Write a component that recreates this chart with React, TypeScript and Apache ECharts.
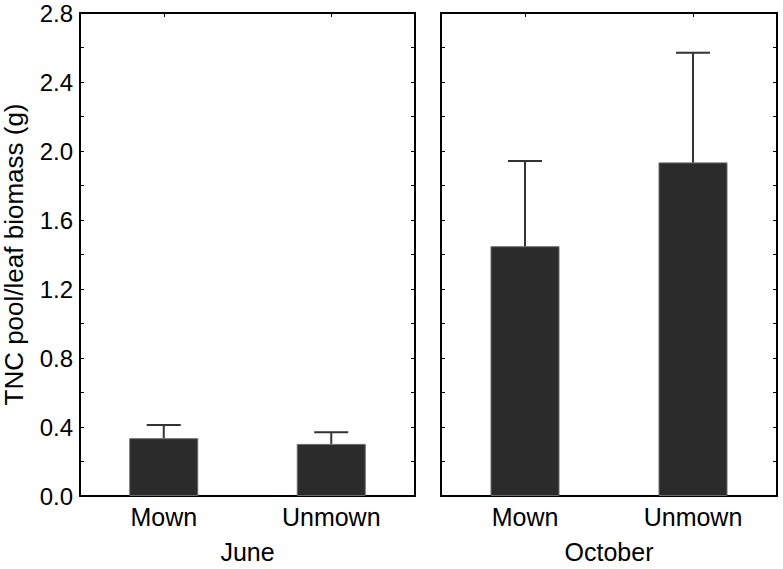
import React, { useEffect, useRef } from "react";
import * as echarts from "echarts";

const categories = ["Mown", "Unmown"];
const panelNames = ["June", "October"];
const juneMeans = [0.335, 0.302];
const juneUpper = [0.412, 0.37];
const octMeans = [1.448, 1.934];
const octUpper = [1.942, 2.57];
const yTickLabels = ["0.0", "0.4", "0.8", "1.2", "1.6", "2.0", "2.4", "2.8"];
const yTitle = "TNC pool/leaf biomass (g)";

const FONT = "'Liberation Sans', Arial, Helvetica, sans-serif";

export default function App() {
  const ref = useRef<HTMLDivElement>(null);
  useEffect(() => {
    if (!ref.current) return;
    const chart = echarts.init(ref.current, undefined, { renderer: "svg" });

    const lineStyle = { color: "#000", width: 2 };
    const tickStyle = { color: "#000", width: 1 };

    const xAxisFor = (grid: number, name: string) => [
      {
        gridIndex: grid,
        type: "category",
        data: categories,
        position: "bottom",
        axisLine: { show: true, onZero: false, lineStyle },
        axisTick: { show: true, inside: true, alignWithLabel: true, length: 4, lineStyle: tickStyle },
        axisLabel: { fontSize: 25, color: "#000", margin: 8, fontFamily: FONT },
        name,
        nameLocation: "middle",
        nameGap: 43,
        nameTextStyle: { fontSize: 25, color: "#000", fontFamily: FONT },
      },
      {
        gridIndex: grid,
        type: "category",
        data: categories,
        position: "top",
        axisLine: { show: true, onZero: false, lineStyle },
        axisTick: { show: true, inside: true, alignWithLabel: true, length: 4, lineStyle: tickStyle },
        axisLabel: { show: false },
      },
    ];

    const yAxisFor = (grid: number, pos: string, labels: boolean) => ({
      gridIndex: grid,
      type: "value",
      min: 0,
      max: 2.8,
      interval: 0.2,
      position: pos,
      splitLine: { show: false },
      axisLine: { show: true, onZero: false, lineStyle },
      axisTick: { show: true, inside: true, length: 4, lineStyle: tickStyle },
      axisLabel: labels
        ? {
            show: true,
            fontSize: 24,
            color: "#000",
            margin: 7,
            fontFamily: FONT,
            formatter: (v: number) => {
              const s = v.toFixed(1);
              return yTickLabels.includes(s) ? s : "";
            },
          }
        : { show: false },
      ...(labels
        ? {
            name: yTitle,
            nameLocation: "middle",
            nameGap: 53,
            nameRotate: 90,
            nameTextStyle: { fontSize: 26, color: "#000", fontFamily: FONT },
          }
        : {}),
    });

    const errRender = (params: any, api: any) => {
      const x = api.value(0);
      const m = api.value(1);
      const u = api.value(2);
      const base = api.coord([x, m]);
      const top = api.coord([x, u]);
      const half = 17;
      return {
        type: "group",
        children: [
          {
            type: "line",
            shape: { x1: base[0], y1: base[1], x2: top[0], y2: top[1] },
            style: { stroke: "#333", lineWidth: 2 },
          },
          {
            type: "line",
            shape: { x1: top[0] - half, y1: top[1], x2: top[0] + half, y2: top[1] },
            style: { stroke: "#333", lineWidth: 2 },
          },
        ],
      };
    };

    const barStyle = { color: "#2b2b2b", borderColor: "#6a6a6a", borderWidth: 1 };

    chart.setOption({
      animation: false,
      backgroundColor: "#fff",
      grid: [
        { left: 80, right: 368, top: 13, bottom: 72 },
        { left: 441, right: 6, top: 13, bottom: 72 },
      ],
      xAxis: [...xAxisFor(0, panelNames[0]), ...xAxisFor(1, panelNames[1])],
      yAxis: [
        yAxisFor(0, "left", true),
        yAxisFor(0, "right", false),
        yAxisFor(1, "left", false),
        yAxisFor(1, "right", false),
      ],
      series: [
        {
          type: "bar",
          xAxisIndex: 0,
          yAxisIndex: 0,
          data: juneMeans,
          barWidth: 69,
          itemStyle: barStyle,
        },
        {
          type: "bar",
          xAxisIndex: 2,
          yAxisIndex: 2,
          data: octMeans,
          barWidth: 69,
          itemStyle: barStyle,
        },
        {
          type: "custom",
          xAxisIndex: 0,
          yAxisIndex: 0,
          renderItem: errRender,
          encode: { x: 0, y: [1, 2] },
          data: categories.map((_, i) => [i, juneMeans[i], juneUpper[i]]),
          z: 5,
        },
        {
          type: "custom",
          xAxisIndex: 2,
          yAxisIndex: 2,
          renderItem: errRender,
          encode: { x: 0, y: [1, 2] },
          data: categories.map((_, i) => [i, octMeans[i], octUpper[i]]),
          z: 5,
        },
      ],
    });

    return () => chart.dispose();
  }, []);

  return (
    <div
      ref={ref}
      style={{ position: "absolute", left: 0, top: 0, width: 783, height: 569, background: "#fff" }}
    />
  );
}
